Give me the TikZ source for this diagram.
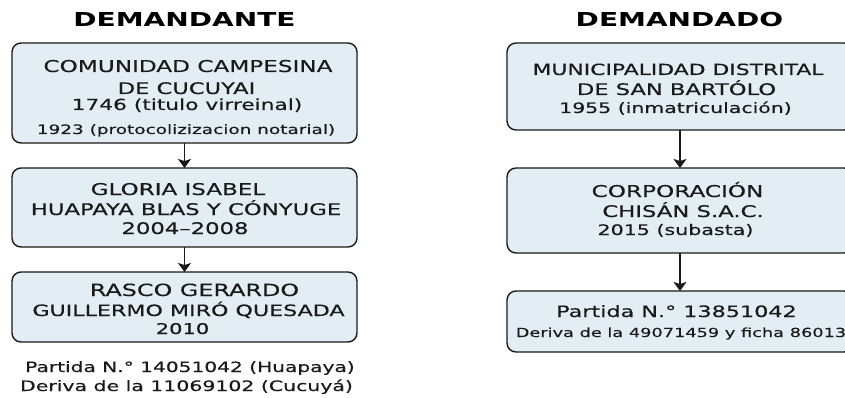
\documentclass[tikz,border=0pt]{standalone}
\usepackage{fontspec}
\setmainfont{DejaVu Sans}[FakeStretch=1.42,FakeBold=0.3]
\newfontfamily\titlefont{DejaVu Sans}[FakeStretch=1.46]
\usetikzlibrary{arrows.meta}
\definecolor{boxfill}{RGB}{227,238,244}
\definecolor{ink}{RGB}{26,26,26}
\newcommand\fsz[1]{\fontsize{#1}{#1}\selectfont}
\tikzset{
  card/.style={draw=ink, line width=1.4pt, fill=boxfill, rounded corners=9pt,
    inner sep=0pt, outer sep=0pt, rectangle},
  txt/.style={anchor=base, inner sep=0pt, text=ink},
  ttl/.style={anchor=base, inner sep=0pt, text=black, font=\titlefont\bfseries\fsz{19.2}},
  flow/.style={draw=ink, line width=1.4pt, -{Stealth[width=13pt,length=9pt,inset=2pt]}}
}
\begin{document}
\begin{tikzpicture}[x=1pt,y=-1pt]
\useasboundingbox (0,0) rectangle (845,398);
\clip (0,0) rectangle (845,398);
\fill[white] (0,0) rectangle (845,398);
% titles
\node[ttl] (tl) at (184.5,27) {DEMANDANTE};
\node[ttl] (tr) at (679.5,27) {DEMANDADO};
% left boxes
\node[card, minimum width=345pt, minimum height=100pt] (b1) at (184.5,93) {};
\node[card, minimum width=345pt, minimum height=79pt] (b2) at (184.5,207.5) {};
\node[card, minimum width=345pt, minimum height=70pt] (b3) at (184.5,307) {};
% right boxes
\node[card, minimum width=346pt, minimum height=87pt] (b4) at (680,86.5) {};
\node[card, minimum width=346pt, minimum height=85pt] (b5) at (680,210.5) {};
\node[card, minimum width=346pt, minimum height=61pt] (b6) at (680,321.5) {};
% arrows
\draw[flow] (b1.south) -- (b2.north);
\draw[flow] (b2.south) -- (b3.north);
\draw[flow] (b4.south) -- (b5.north);
\draw[flow] (b5.south) -- (b6.north);
% box 1 text
\node[txt, font=\fsz{16.3}] (t1a) at (188,72) {COMUNIDAD CAMPESINA};
\node[txt, font=\fsz{15.9}] (t1b) at (186.5,94) {DE CUCUYAI};
\node[txt, font=\fsz{15.3}] (t1c) at (187,110) {1746 (titulo virreinal)};
\node[txt, font=\fsz{13}] (t1d) at (186,134) {1923 (protocolizizacion notarial)};
% box 2 text
\node[txt, font=\fsz{16.2}] (t2a) at (178,195) {GLORIA ISABEL};
\node[txt, font=\fsz{16}] (t2b) at (186,215) {HUAPAYA BLAS Y CÓNYUGE};
\node[txt, font=\fsz{16}] (t2c) at (185,234) {2004–2008};
% box 3 text
\node[txt, font=\fsz{16.8}] (t3a) at (194.5,296) {RASCO GERARDO};
\node[txt, font=\fsz{15.6}] (t3b) at (188.5,316) {GUILLERMO MIRÓ QUESADA};
\node[txt, font=\fsz{14.8}] (t3c) at (182.5,334) {2010};
% note below left
\node[txt, font=\fsz{14.2}] (n1) at (190,372) {Partida N.° 14051042 (Huapaya)};
\node[txt, font=\fsz{14.4}] (n2) at (186.5,391) {Deriva de la 11069102 (Cucuyá)};
% box 4 text
\node[txt, font=\fsz{15.4}] (t4a) at (678,75) {MUNICIPALIDAD DISTRITAL};
\node[txt, font=\fsz{15.9}] (t4b) at (676.5,95) {DE SAN BARTÓLO};
\node[txt, font=\fsz{14.4}] (t4c) at (675.5,113) {1955 (inmatriculación)};
% box 5 text
\node[txt, font=\fsz{16.3}] (t5a) at (677.5,197) {CORPORACIÓN};
\node[txt, font=\fsz{16}] (t5b) at (683,217) {CHISÁN S.A.C.};
\node[txt, font=\fsz{14.5}] (t5c) at (675.5,235) {2015 (subasta)};
% box 6 text
\node[txt, font=\fsz{15.7}] (t6a) at (676.5,317) {Partida N.° 13851042};
\node[txt, font=\fsz{12.5}] (t6b) at (681,337) {Deriva de la 49071459 y ficha 86013};
\end{tikzpicture}
\end{document}
